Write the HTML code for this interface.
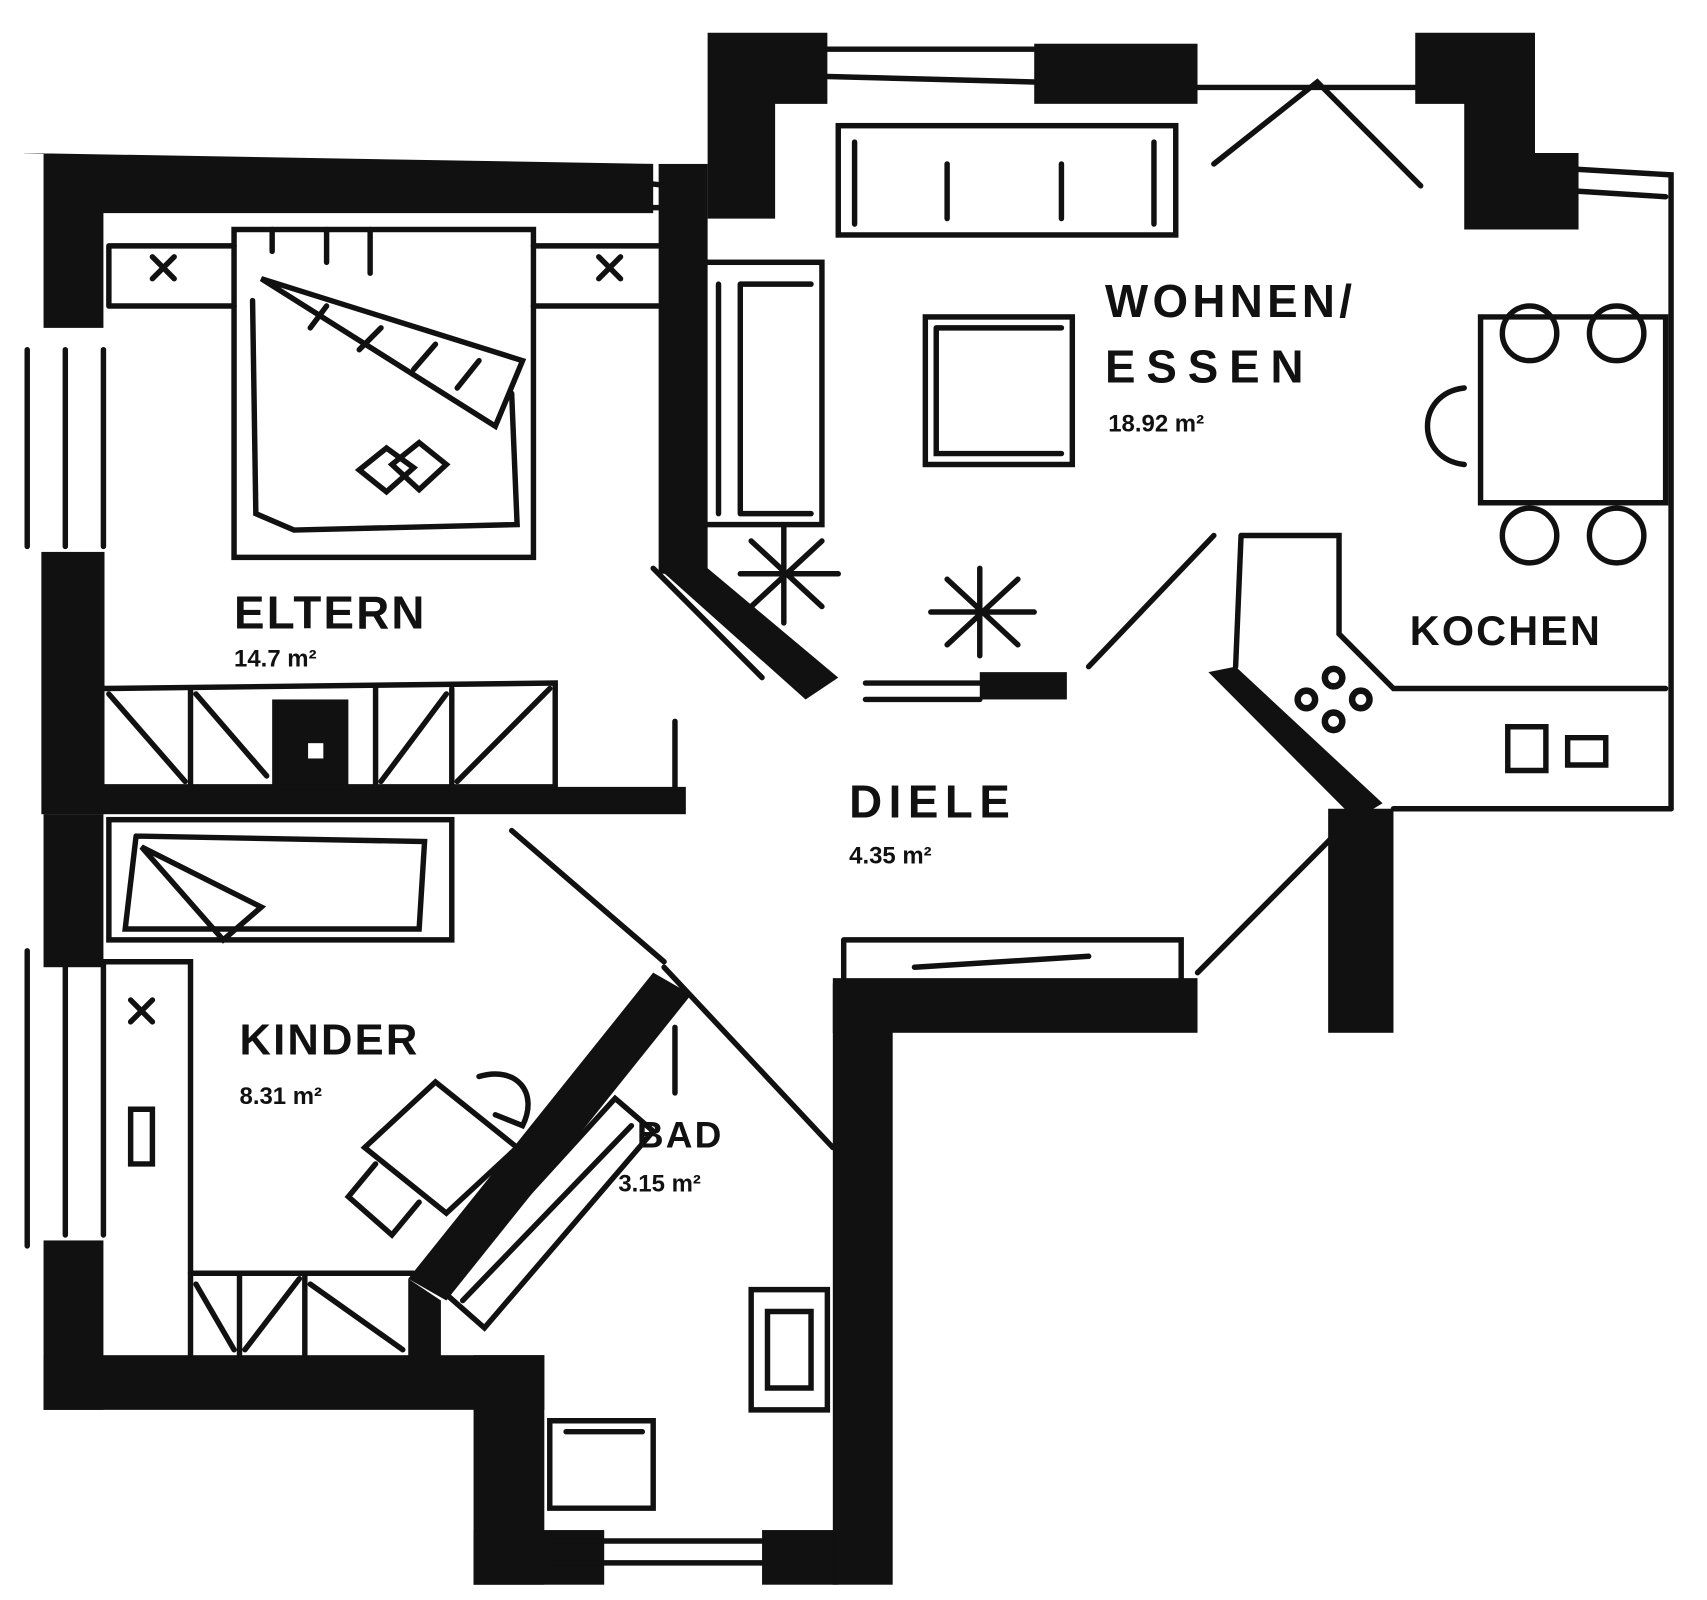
<!DOCTYPE html>
<html><head><meta charset="utf-8"><style>
html,body{margin:0;padding:0;background:#fff;}
svg{display:block}
text{font-family:"Liberation Sans",sans-serif;font-weight:bold;fill:#111}
</style></head><body>
<svg width="1707" height="1600" viewBox="0 0 1568 1464" preserveAspectRatio="none" xmlns="http://www.w3.org/2000/svg">
<g fill="#111" stroke="none">
<!-- outer walls left block -->
<polygon points="22,140 600,150 600,195 95,195 95,300 40,300 40,140"/>
<rect x="38" y="505" width="58" height="240"/>
<rect x="40" y="720" width="590" height="25"/>
<rect x="40" y="745" width="55" height="140"/>
<rect x="40" y="1135" width="55" height="155"/>
<rect x="40" y="1240" width="460" height="50"/>
<rect x="435" y="1240" width="65" height="210"/>
<rect x="435" y="1400" width="120" height="50"/>
<rect x="700" y="1400" width="70" height="50"/>
<rect x="765" y="900" width="55" height="550"/>
<rect x="765" y="895" width="335" height="50"/>
<rect x="1220" y="740" width="60" height="205"/>
<!-- column between Eltern & Wohnen -->
<rect x="605" y="150" width="45" height="375"/>
<polygon points="650,30 760,30 760,95 712,95 712,200 650,200"/>
<rect x="950" y="40" width="150" height="55"/>
<polygon points="1300,30 1410,30 1410,140 1450,140 1450,210 1345,210 1345,95 1300,95"/>
<!-- diagonal walls -->
<polygon points="605,520 650,520 770,620 740,640"/>
<polygon points="600,890 635,910 410,1190 375,1170"/>
<polygon points="375,1170 405,1190 405,1250 375,1250"/>
<polygon points="1110,615 1135,610 1270,735 1245,750"/>
<rect x="250" y="640" width="70" height="80"/>
<rect x="900" y="615" width="80" height="25"/>
</g>
<rect x="283" y="680" width="14" height="14" fill="#fff"/>
<g fill="none" stroke="#111" stroke-width="5" stroke-linecap="round">
<!-- windows left -->
<path d="M25,320 L25,500 M60,320 L60,500 M95,320 L95,500 M25,870 L25,1140 M60,880 L60,1130 M95,880 L95,1130"/>
<path d="M520,160 L615,170 M525,190 L620,190"/>
<!-- top window/door wohnen -->
<path d="M760,45 L950,45 M760,70 L950,75 M1100,80 L1300,80 M1115,150 L1210,75 L1305,170"/>
<path d="M1450,155 L1535,160 L1535,740 M1450,175 L1530,180"/>
<path d="M1280,740 L1535,740"/>
<!-- Eltern bed -->
<rect x="215" y="210" width="275" height="300"/>
<path d="M232,275 L235,470 L270,485 L475,480 L470,360"/>
<path d="M240,255 L480,330 L455,390 Z"/>
<path d="M300,280 L285,300 M350,300 L330,320 M400,315 L380,338 M440,330 L420,355"/>
<path d="M330,430 L355,410 L380,428 L355,450 Z M360,425 L385,405 L410,425 L385,448 Z"/>
<path d="M250,210 L250,230 M300,210 L300,240 M340,210 L340,250"/>
<path d="M100,225 L215,225 M100,280 L215,280 M490,225 L605,225 M490,280 L605,280 M100,225 L100,280"/>
<path d="M140,235 L160,255 M160,235 L140,255 M550,235 L570,255 M570,235 L550,255"/>
<!-- wardrobe eltern -->
<path d="M95,630 L510,625 L510,720 M95,720 L510,720"/>
<path d="M175,630 L175,720 M345,630 L345,720 M415,630 L415,720 M100,635 L170,715 M180,635 L245,710 M350,715 L410,635 M420,715 L505,630"/>
<!-- Kinder bed -->
<rect x="100" y="750" width="315" height="110"/>
<path d="M125,765 L115,850 L385,850 L390,770 L125,765"/>
<path d="M130,775 L240,830 L205,860 Z"/>
<path d="M95,880 L175,880 L175,1240 M120,915 L140,935 M140,915 L120,935 M120,1015 L140,1015 L140,1065 L120,1065 Z"/>
<path d="M175,1165 L380,1165 M220,1165 L220,1240 M280,1165 L280,1240 M180,1175 L215,1235 M225,1235 L275,1170 M285,1175 L370,1235"/>
<!-- desk kinder -->
<path d="M335,1050 L400,990 L475,1050 L410,1110 Z M345,1065 L320,1095 L360,1130 L385,1100"/>
<path d="M440,985 C475,975 495,1000 480,1030 L455,1020"/>
<!-- Bad -->
<path d="M405,1180 L565,1005 L600,1035 L445,1215 Z M425,1190 L580,1030"/>
<path d="M690,1180 L760,1180 L760,1290 L690,1290 Z M705,1200 L745,1200 L745,1270 L705,1270 Z"/>
<path d="M505,1300 L600,1300 L600,1380 L505,1380 Z M520,1310 L590,1310"/>
<path d="M505,1410 L700,1410 M505,1430 L700,1430"/>
<path d="M610,885 L765,1050 M620,940 L620,1000 M470,760 L610,880"/>
<path d="M620,660 L620,720 M600,520 L700,620"/>
<!-- Diele -->
<path d="M775,860 L1085,860 L1085,895 M775,860 L775,895 M840,885 L1000,875"/>
<path d="M1100,890 L1225,765 M1000,610 L1115,490 M795,625 L900,625 M795,640 L900,640"/>
<!-- Wohnen sofa -->
<rect x="770" y="115" width="310" height="100"/>
<path d="M785,130 L785,205 M1060,130 L1060,205 M870,150 L870,200 M975,150 L975,200"/>
<rect x="645" y="240" width="110" height="240"/>
<path d="M660,260 L660,470 M680,260 L680,470 M680,260 L745,260 M680,470 L745,470"/>
<rect x="850" y="290" width="135" height="135"/>
<path d="M860,300 L975,300 M860,300 L860,415 L975,415"/>
<!-- plants -->
<path d="M720,480 L720,570 M680,525 L770,525 M690,495 L755,555 M755,495 L690,555"/>
<path d="M900,520 L900,600 M855,560 L950,560 M870,530 L935,590 M935,530 L870,590"/>
<!-- kitchen -->
<path d="M1140,490 L1230,490 L1230,580 L1280,630 L1530,630 M1140,490 L1135,610"/>
<path d="M1360,290 L1530,290 L1530,460 L1360,460 Z"/>
<circle cx="1405" cy="305" r="25"/><circle cx="1485" cy="305" r="25"/>
<circle cx="1405" cy="490" r="25"/><circle cx="1485" cy="490" r="25"/>
<path d="M1345,355 C1300,360 1300,420 1345,425"/>
<path d="M1385,665 L1420,665 L1420,705 L1385,705 Z M1440,675 L1475,675 L1475,700 L1440,700 Z"/>
</g>
<g fill="none" stroke="#111" stroke-width="6">
<circle cx="1200" cy="640" r="8"/><circle cx="1225" cy="620" r="8"/><circle cx="1225" cy="660" r="8"/><circle cx="1250" cy="640" r="8"/>
</g>
<text x="1015" y="290" font-size="42" letter-spacing="4">WOHNEN/</text>
<text x="1015" y="350" font-size="42" letter-spacing="10">ESSEN</text>
<text x="1018" y="395" font-size="22">18.92 m²</text>
<text x="1295" y="590" font-size="38" letter-spacing="2">KOCHEN</text>
<text x="215" y="575" font-size="42" letter-spacing="2">ELTERN</text>
<text x="215" y="610" font-size="22">14.7 m²</text>
<text x="780" y="748" font-size="42" letter-spacing="6">DIELE</text>
<text x="780" y="790" font-size="22">4.35 m²</text>
<text x="220" y="965" font-size="40" letter-spacing="2">KINDER</text>
<text x="220" y="1010" font-size="22">8.31 m²</text>
<text x="585" y="1050" font-size="34" letter-spacing="2">BAD</text>
<text x="568" y="1090" font-size="22">3.15 m²</text>
</svg>
</body></html>
